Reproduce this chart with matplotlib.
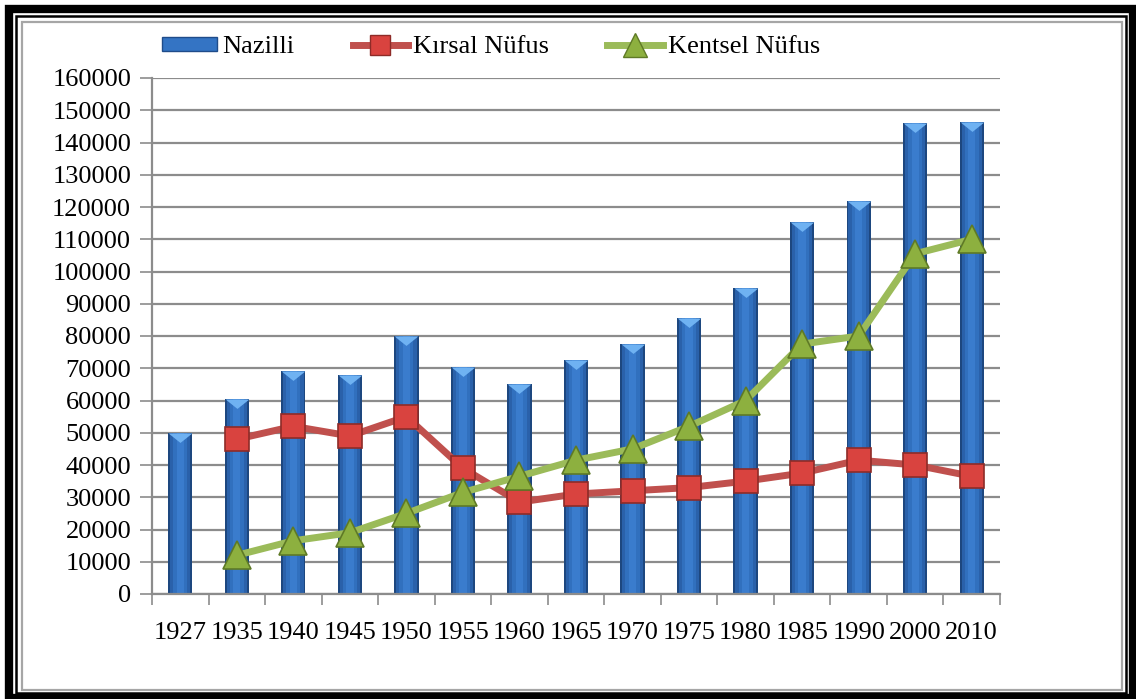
import matplotlib
matplotlib.use("Agg")
import matplotlib.pyplot as plt
import numpy as np
from matplotlib.patches import Rectangle, Patch
from matplotlib.lines import Line2D

years = ["1927", "1935", "1940", "1945", "1950", "1955", "1960", "1965",
         "1970", "1975", "1980", "1985", "1990", "2000", "2010"]
nazilli = [50000, 60500, 69000, 68000, 80000, 70500, 65000, 72500,
           77500, 85500, 95000, 115500, 122000, 146000, 146500]
kirsal = [None, 48000, 52000, 49000, 55000, 39000, 28500, 31000,
          32000, 33000, 35000, 37500, 41500, 40000, 36500]
kentsel = [None, 12000, 16500, 19000, 25000, 31500, 36500, 41500,
           45000, 52000, 60000, 77500, 80000, 105500, 110000]
yticks = list(range(0, 160001, 10000))

plt.rcParams['font.family'] = ['Liberation Serif', 'DejaVu Serif']

fig = plt.figure(figsize=(11.36, 6.99), dpi=100)
ax = fig.add_axes([152/1136, 1 - 594/699, (1000-152)/1136, (594-78)/699])

x = np.arange(len(years))
bw = 0.43
# gradient-like bars: layered strips
ax.bar(x, nazilli, width=bw, color="#1D477F", zorder=2)
ax.bar(x, nazilli, width=bw*0.84, color="#2A61AA", zorder=2.1)
ax.bar(x, nazilli, width=bw*0.58, color="#3170BE", zorder=2.2)
ax.bar(x, nazilli, width=bw*0.30, color="#3A7CCD", zorder=2.3)
# bevel top (flat wedge)
wedge = [(-1, 0), (1, 0), (0, -0.8), (-1, 0)]
ax.plot(x, nazilli, linestyle="none", marker=wedge,
        markersize=17, color="#6FB2F2", markeredgewidth=0, zorder=2.4)

kx = [i for i, v in enumerate(kirsal) if v is not None]
kv = [v for v in kirsal if v is not None]
tx = [i for i, v in enumerate(kentsel) if v is not None]
tv = [v for v in kentsel if v is not None]

ax.plot(kx, kv, color="#C0504D", linewidth=5, marker="s", markersize=17.5,
        markerfacecolor="#D9433F", markeredgecolor="#8E2B28", markeredgewidth=1.2,
        zorder=4)
ax.plot(tx, tv, color="#9BBB59", linewidth=5, marker="^", markersize=20,
        markerfacecolor="#8DB03F", markeredgecolor="#5F7A26", markeredgewidth=1.2,
        zorder=5)

ax.set_xlim(-0.5, len(years) - 0.5)
ax.set_ylim(0, 160000)
ax.set_yticks(yticks)
ax.set_yticklabels([str(v) for v in yticks], fontsize=19)
ax.yaxis.grid(True, color="#8C8C8C", linewidth=1.6, zorder=0)
ax.set_axisbelow(True)

ax.set_xticks(np.arange(-0.5, len(years), 1.0))
ax.set_xticklabels([])
ax.set_xticks(x, minor=True)
ax.set_xticklabels(years, minor=True, fontsize=19)
ax.tick_params(axis="x", which="minor", length=0, pad=20)
ax.tick_params(axis="x", which="major", length=8, width=1.2, color="#8C8C8C",
               direction="out")
ax.tick_params(axis="y", length=9, width=1.2, color="#8C8C8C", direction="out", pad=6)

for s in ["top", "right"]:
    ax.spines[s].set_visible(False)
for s in ["left", "bottom"]:
    ax.spines[s].set_color("#8C8C8C")
    ax.spines[s].set_linewidth(1.6)

handles = [
    Patch(facecolor="#3474C4", edgecolor="#1F4C8A"),
    Line2D([0], [0], color="#C0504D", linewidth=5, marker="s", markersize=15,
           markerfacecolor="#D9433F", markeredgecolor="#8E2B28"),
    Line2D([0], [0], color="#9BBB59", linewidth=5, marker="^", markersize=17,
           markerfacecolor="#8DB03F", markeredgecolor="#5F7A26"),
]
leg = fig.legend(handles, ["Nazilli", "Kırsal Nüfus", "Kentsel Nüfus"],
                 loc="center left", bbox_to_anchor=(138/1136, 1 - 47/699),
                 ncol=3, frameon=False, fontsize=19, handlelength=2.1,
                 handleheight=0.45, columnspacing=2.2, handletextpad=0.2)

# frame
W, H = 1136, 699
def frect(x0, y0, x1, y1, **kw):
    fig.add_artist(Rectangle((x0/W, 1 - y1/H), (x1 - x0)/W, (y1 - y0)/H,
                             transform=fig.transFigure, fill=False, **kw))
frect(9, 9, 1133, 698, edgecolor="black", linewidth=6)
frect(16, 16, 1125.5, 692.5, edgecolor="black", linewidth=1.8)
frect(21.5, 21.5, 1122, 690, edgecolor="#A6A6A6", linewidth=1.6)

fig.savefig("out.png", dpi=100)
